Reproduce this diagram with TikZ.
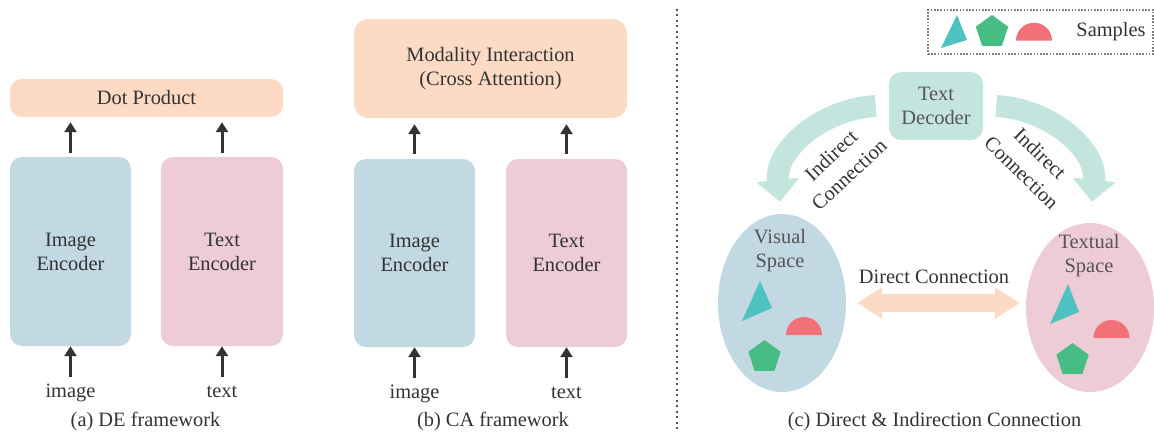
\documentclass[tikz,border=0pt]{standalone}
\usepackage{fontspec}
\setmainfont{Liberation Serif}
\usetikzlibrary{arrows.meta,calc,positioning,shapes.geometric}

\definecolor{encblue}{HTML}{C2D9E4}
\definecolor{encpink}{HTML}{EDCCD6}
\definecolor{peach}{HTML}{FDDAC4}
\definecolor{mint}{HTML}{C3E5DD}
\definecolor{teal}{HTML}{4EC1C1}
\definecolor{leaf}{HTML}{47BC85}
\definecolor{coral}{HTML}{F27078}
\definecolor{ink}{HTML}{333333}
\definecolor{softink}{HTML}{555555}

\begin{document}
\begin{tikzpicture}[
        x=1pt, y=1pt,
        every node/.style={color=ink, font=\fontsize{20.4}{24}\selectfont},
        rounded box/.style={fill=#1, rounded corners=12pt, inner sep=0pt, align=center},
        input label/.style={anchor=base, text height=14pt, inner sep=0pt},
        up arrow/.style={line width=3pt, draw=ink, -{Triangle[width=12pt,length=10pt]}},
        indirect arrow/.style={line width=22pt, draw=mint, -{Triangle[width=42pt,length=22pt]}},
        indirect label/.style={align=center, inner sep=0pt, font=\fontsize{20.4}{26.5}\selectfont},
        direct arrow/.style={line width=18pt, draw=peach, {Triangle[width=30pt,length=25pt]}-{Triangle[width=30pt,length=25pt]}},
        space/.style={ellipse, fill=#1, inner sep=0pt},
        sample tri/.style={fill=teal},
        sample pent/.style={fill=leaf},
        sample half/.style={fill=coral}
    ]
    \useasboundingbox (0,0) rectangle (1154,432);

    % (a) DE framework
    \node[rounded box=peach, minimum width=273pt, minimum height=38pt] (dotp) at (146.5,334) {Dot Product};
    \node[rounded box=encblue, minimum width=121pt, minimum height=189pt] (imgencA) at (70.5,180.5) {Image\\Encoder};
    \node[rounded box=encpink, minimum width=122pt, minimum height=189pt] (txtencA) at (222,180.5) {Text\\Encoder};
    \node[input label] (imgA) at (70.5,35) {image};
    \node[input label] (txtA) at (222,35) {text};
    \draw[up arrow] ([yshift=6pt]imgA.north) -- (imgencA.south);
    \draw[up arrow] ([yshift=6pt]txtA.north) -- (txtencA.south);
    \draw[up arrow] ([yshift=4pt]imgencA.north) -- ([yshift=-5pt]imgencA.north |- dotp.south);
    \draw[up arrow] ([yshift=4pt]txtencA.north) -- ([yshift=-5pt]txtencA.north |- dotp.south);
    \node[anchor=base] (capA) at (145.5,6) {(a) DE framework};

    % (b) CA framework
    \node[rounded box=peach, rounded corners=15pt, minimum width=273pt, minimum height=99pt] (modint) at (490.5,363.5) {Modality Interaction\\(Cross Attention)};
    \node[rounded box=encblue, minimum width=121pt, minimum height=188pt] (imgencB) at (414.5,179) {Image\\Encoder};
    \node[rounded box=encpink, minimum width=121pt, minimum height=188pt] (txtencB) at (566.5,179) {Text\\Encoder};
    \node[input label] (imgB) at (414.5,34) {image};
    \node[input label] (txtB) at (566.5,34) {text};
    \draw[up arrow] ([yshift=6pt]imgB.north) -- (imgencB.south);
    \draw[up arrow] ([yshift=6pt]txtB.north) -- (txtencB.south);
    \draw[up arrow] ([yshift=5pt]imgencB.north) -- ([yshift=-6pt]imgencB.north |- modint.south);
    \draw[up arrow] ([yshift=5pt]txtencB.north) -- ([yshift=-6pt]txtencB.north |- modint.south);
    \node[anchor=base] (capB) at (493,6) {(b) CA framework};

    % divider
    \coordinate (divtop) at (677,423);
    \coordinate (divbot) at (677,3);
    \draw[softink, line width=2pt, dash pattern=on 2pt off 3.5pt] (divtop) -- (divbot);

    % (c) Direct & Indirection Connection
    \node[draw=gray, line width=2pt, dash pattern=on 1.6pt off 1.6pt, minimum width=225pt, minimum height=44pt, inner sep=0pt] (legend) at (1040.5,400) {};
    \fill[sample tri] (941,384) -- (957,417) -- (967,392) -- cycle;
    \fill[sample pent] (992,400) +(90:17) -- +(162:17) -- +(234:17) -- +(306:17) -- +(18:17) -- cycle;
    \fill[sample half] (1016,391.3) arc[start angle=180, end angle=0, radius=18] -- cycle;
    \node[anchor=base] (samp) at (1111,395) {Samples};

    \node[rounded box=mint, minimum width=94pt, minimum height=68pt, text=softink] (dec) at (936,326) {Text\\Decoder};

    \node[space=encblue, minimum width=128pt, minimum height=178pt] (vis) at (782,129) {};
    \node[space=encpink, minimum width=128pt, minimum height=169pt] (txs) at (1090,124.5) {};
    \node[align=center, text=softink, inner sep=0pt] (vislbl) at (780,181) {Visual\\Space};
    \node[align=center, text=softink, inner sep=0pt] (txslbl) at (1089,176.5) {Textual\\Space};

    % samples in the visual space
    \fill[sample tri] (742,111) -- (760,151) -- (772,124) -- cycle;
    \fill[sample half] (786,97) arc[start angle=180, end angle=0, radius=18] -- cycle;
    \fill[sample pent] (764.5,75) +(90:17) -- +(162:17) -- +(234:17) -- +(306:17) -- +(18:17) -- cycle;
    % samples in the textual space
    \fill[sample tri] (1050,108) -- (1068,148) -- (1079,120) -- cycle;
    \fill[sample half] (1093.5,94) arc[start angle=180, end angle=0, radius=18] -- cycle;
    \fill[sample pent] (1072.5,72) +(90:17) -- +(162:17) -- +(234:17) -- +(306:17) -- +(18:17) -- cycle;

    \draw[indirect arrow] ([xshift=-13pt]dec.west) to[out=183,in=96] ([shift={(-2pt,12pt)}]vis.north);
    \draw[indirect arrow] ([xshift=13pt]dec.east) to[out=-3,in=84] ([shift={(2pt,21pt)}]txs.north);
    \node[indirect label, rotate=43] (indl) at (840,267) {Indirect\\Connection};
    \node[indirect label, rotate=-44] (indr) at (1031,269) {Indirect\\Connection};

    \draw[direct arrow] ([xshift=11pt]vis.east) -- ([xshift=-6pt]vis.east -| txs.west);
    \node[anchor=base] (dirl) at (934,149) {Direct Connection};

    \node[anchor=base] (capC) at (934.5,6) {(c) Direct \& Indirection Connection};
\end{tikzpicture}
\end{document}
